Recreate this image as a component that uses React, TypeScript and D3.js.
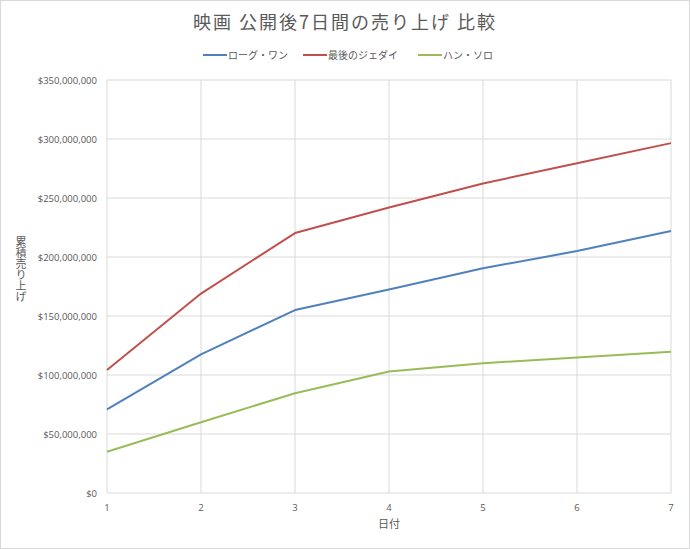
import * as d3 from "d3";
import { useEffect } from "react";

const days = [1, 2, 3, 4, 5, 6, 7];
const rogueOne = [70.8e6, 117.5e6, 155e6, 172.5e6, 190.5e6, 205e6, 222e6];
const lastJedi = [104.2e6, 169e6, 220.3e6, 242e6, 262.3e6, 279.5e6, 296.5e6];
const hanSolo = [35e6, 60e6, 84.5e6, 103e6, 110e6, 114.8e6, 119.7e6];
const yTicks = [0, 50e6, 100e6, 150e6, 200e6, 250e6, 300e6, 350e6];

const series = [
  { name: "ローグ・ワン", color: "#4F81BD", values: rogueOne },
  { name: "最後のジェダイ", color: "#C0504D", values: lastJedi },
  { name: "ハン・ソロ", color: "#9BBB59", values: hanSolo },
];

const W = 690;
const H = 549;
const margin = { left: 107, right: 19, top: 80, bottom: 56 };
const font = "'Noto Sans CJK JP', 'Noto Sans', sans-serif";
const numFont = "'Open Sans', 'Liberation Sans', sans-serif";
const textColor = "#595959";
const gridColor = "#d9d9d9";

export default function App() {
  useEffect(() => {
    document.body.style.margin = "0";
  }, []);

  const x = d3.scaleLinear().domain([1, 7]).range([margin.left, W - margin.right]);
  const y = d3.scaleLinear().domain([0, 350e6]).range([H - margin.bottom, margin.top]);
  const fmt = d3.format("$,.0f");

  const line = d3
    .line<number>()
    .x((_, i) => x(days[i]))
    .y((d) => y(d));

  // legend layout (line + label)
  const legendX = [203, 303, 418];

  return (
    <svg width={W} height={H} style={{ display: "block" }}>
      <rect x={0.5} y={0.5} width={W - 1} height={H - 1} fill="#fff" stroke={gridColor} />

      <text
        x={345}
        y={29}
        textAnchor="middle"
        fontFamily={font}
        fontSize={18}
        letterSpacing={2}
        fill={textColor}
      >
        映画 公開後7日間の売り上げ 比較
      </text>

      {series.map((s, i) => (
        <g key={s.name} transform={`translate(${legendX[i]},55)`}>
          <line x1={0} x2={24} y1={0} y2={0} stroke={s.color} strokeWidth={2} />
          <text x={25} y={4} fontFamily={font} fontSize={10} fill={textColor}>
            {s.name}
          </text>
        </g>
      ))}

      {/* grid */}
      {yTicks.map((t) => (
        <line
          key={"h" + t}
          x1={margin.left}
          x2={W - margin.right}
          y1={y(t)}
          y2={y(t)}
          stroke={gridColor}
        />
      ))}
      {days.map((d) => (
        <line
          key={"v" + d}
          x1={x(d)}
          x2={x(d)}
          y1={margin.top}
          y2={H - margin.bottom}
          stroke={gridColor}
        />
      ))}

      {yTicks.map((t) => (
        <text
          key={"yl" + t}
          x={margin.left - 10}
          y={y(t) + 3.5}
          textAnchor="end"
          fontFamily={numFont}
          fontSize={9.5}
          fill={textColor}
        >
          {fmt(t)}
        </text>
      ))}
      {days.map((d) => (
        <text
          key={"xl" + d}
          x={x(d)}
          y={H - margin.bottom + 18}
          textAnchor="middle"
          fontFamily={numFont}
          fontSize={9.5}
          fill={textColor}
        >
          {d}
        </text>
      ))}

      <text
        x={(margin.left + W - margin.right) / 2}
        y={528}
        textAnchor="middle"
        fontFamily={font}
        fontSize={11}
        fill={textColor}
      >
        日付
      </text>

      <text
        x={21}
        y={236}
        fontFamily={font}
        fontSize={11}
        fill={textColor}
        style={{ writingMode: "vertical-rl", textOrientation: "upright" }}
      >
        累積売り上げ
      </text>

      {series.map((s) => (
        <path
          key={"p" + s.name}
          d={line(s.values) || ""}
          fill="none"
          stroke={s.color}
          strokeWidth={2}
          strokeLinejoin="round"
        />
      ))}
    </svg>
  );
}
